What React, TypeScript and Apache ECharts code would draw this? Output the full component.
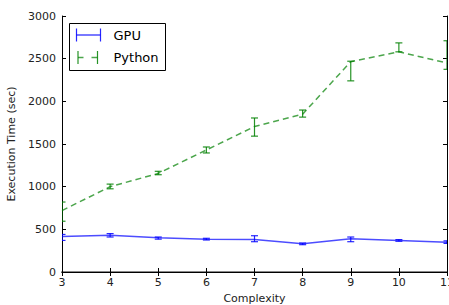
import React, { useEffect, useRef } from "react";
import * as echarts from "echarts";

const complexity = [3, 4, 5, 6, 7, 8, 9, 10, 11];
const gpuTime = [415, 430, 400, 385, 380, 330, 390, 370, 350];
const gpuLow = [370, 410, 385, 375, 355, 320, 355, 360, 335];
const gpuHigh = [440, 450, 410, 395, 425, 340, 410, 380, 365];
const pyTime = [720, 1000, 1155, 1430, 1705, 1850, 2465, 2580, 2450];
const pyLow = [595, 975, 1140, 1395, 1592, 1815, 2240, 2580, 2375];
const pyHigh = [820, 1030, 1180, 1465, 1805, 1898, 2470, 2685, 2710];
const yTicks = [0, 500, 1000, 1500, 2000, 2500, 3000];

const FONT = "DejaVu Sans";
const BLUE = "#0000ff";
const GREEN = "#008000";

function errorSeries(name: string, low: number[], high: number[], color: string) {
  return {
    type: "custom",
    name,
    clip: true,
    z: 3,
    data: complexity.map((x, i) => [x, low[i], high[i]]),
    renderItem: (params: any, api: any) => {
      const x = api.value(0);
      const lo = api.coord([x, api.value(1)]);
      const hi = api.coord([x, api.value(2)]);
      const w = 3.5;
      const style = { stroke: color, lineWidth: 1.2, opacity: 0.85 };
      return {
        type: "group",
        children: [
          { type: "line", shape: { x1: lo[0], y1: lo[1], x2: hi[0], y2: hi[1] }, style },
          { type: "line", shape: { x1: lo[0] - w, y1: lo[1], x2: lo[0] + w, y2: lo[1] }, style },
          { type: "line", shape: { x1: hi[0] - w, y1: hi[1], x2: hi[0] + w, y2: hi[1] }, style },
        ],
      };
    },
  };
}

export default function App() {
  const ref = useRef<HTMLDivElement>(null);
  useEffect(() => {
    if (!ref.current) return;
    const chart = echarts.init(ref.current, undefined, { renderer: "svg" });
    const tickCommon = { inside: true, length: 4, lineStyle: { color: "#000", width: 1 } };
    const labelCommon = { fontFamily: FONT, fontSize: 11, color: "#222" };
    const legendX = 69;
    const legendY = 23;
    chart.setOption({
      animation: false,
      backgroundColor: "#fff",
      grid: { left: 62, right: 2, top: 16, bottom: 33, containLabel: false, outerBoundsMode: "none" },
      xAxis: [
        {
          type: "value",
          min: 3,
          max: 11,
          interval: 1,
          name: "Complexity",
          nameLocation: "middle",
          nameGap: 20,
          nameTextStyle: { fontFamily: FONT, fontSize: 11, color: "#222" },
          axisLine: { show: true, lineStyle: { color: "#888", width: 2 } },
          axisTick: tickCommon,
          axisLabel: { ...labelCommon, margin: 5 },
          splitLine: { show: false },
        },
        {
          type: "value",
          position: "top",
          min: 3,
          max: 11,
          interval: 1,
          axisLine: { show: true, lineStyle: { color: "#000", width: 1 } },
          axisTick: tickCommon,
          axisLabel: { show: false },
          splitLine: { show: false },
        },
      ],
      yAxis: [
        {
          type: "value",
          min: yTicks[0],
          max: yTicks[yTicks.length - 1],
          interval: 500,
          name: "Execution Time (sec)",
          nameLocation: "middle",
          nameGap: 40,
          nameTextStyle: { fontFamily: FONT, fontSize: 11, color: "#222" },
          axisLine: { show: true, lineStyle: { color: "#000", width: 1 } },
          axisTick: tickCommon,
          axisLabel: { ...labelCommon, margin: 6, formatter: (v: number) => String(v) },
          splitLine: { show: false },
        },
        {
          type: "value",
          position: "right",
          min: yTicks[0],
          max: yTicks[yTicks.length - 1],
          interval: 500,
          axisLine: { show: true, lineStyle: { color: "#000", width: 1 } },
          axisTick: tickCommon,
          axisLabel: { show: false },
          splitLine: { show: false },
        },
      ],
      series: [
        {
          type: "line",
          name: "GPU",
          data: complexity.map((x, i) => [x, gpuTime[i]]),
          symbol: "none",
          lineStyle: { color: BLUE, width: 1.5, opacity: 0.7 },
          z: 2,
        },
        {
          type: "line",
          name: "Python",
          data: complexity.map((x, i) => [x, pyTime[i]]),
          symbol: "none",
          lineStyle: { color: GREEN, width: 1.5, opacity: 0.7, type: [6, 4] },
          z: 2,
        },
        errorSeries("GPU err", gpuLow, gpuHigh, BLUE),
        errorSeries("Python err", pyLow, pyHigh, GREEN),
      ],
      graphic: [
        {
          type: "group",
          left: legendX,
          top: legendY,
          children: [
            { type: "rect", shape: { x: 0, y: 0, width: 96, height: 47 }, style: { fill: "#fff", stroke: "#000", lineWidth: 1 } },
            { type: "line", shape: { x1: 7, y1: 11.5, x2: 31, y2: 11.5 }, style: { stroke: BLUE, lineWidth: 1.5, opacity: 0.7 } },
            { type: "line", shape: { x1: 7, y1: 5, x2: 7, y2: 18 }, style: { stroke: BLUE, lineWidth: 1.2, opacity: 0.85 } },
            { type: "line", shape: { x1: 31, y1: 5, x2: 31, y2: 18 }, style: { stroke: BLUE, lineWidth: 1.2, opacity: 0.85 } },
            { type: "text", x: 44, y: 11.5, style: { text: "GPU", fontFamily: FONT, fontSize: 13, fill: "#000", verticalAlign: "middle" } },
            { type: "line", shape: { x1: 8.5, y1: 34, x2: 14, y2: 34 }, style: { stroke: GREEN, lineWidth: 1.5, opacity: 0.7 } },
            { type: "line", shape: { x1: 22, y1: 34, x2: 28, y2: 34 }, style: { stroke: GREEN, lineWidth: 1.5, opacity: 0.7 } },
            { type: "line", shape: { x1: 8.5, y1: 27.5, x2: 8.5, y2: 40.5 }, style: { stroke: GREEN, lineWidth: 1.2, opacity: 0.85 } },
            { type: "line", shape: { x1: 28, y1: 27.5, x2: 28, y2: 40.5 }, style: { stroke: GREEN, lineWidth: 1.2, opacity: 0.85 } },
            { type: "text", x: 44, y: 34, style: { text: "Python", fontFamily: FONT, fontSize: 13, fill: "#000", verticalAlign: "middle" } },
          ],
        },
      ],
    });
    return () => chart.dispose();
  }, []);
  return <div ref={ref} style={{ width: 449, height: 305, position: "absolute", left: 0, top: 0 }} />;
}
